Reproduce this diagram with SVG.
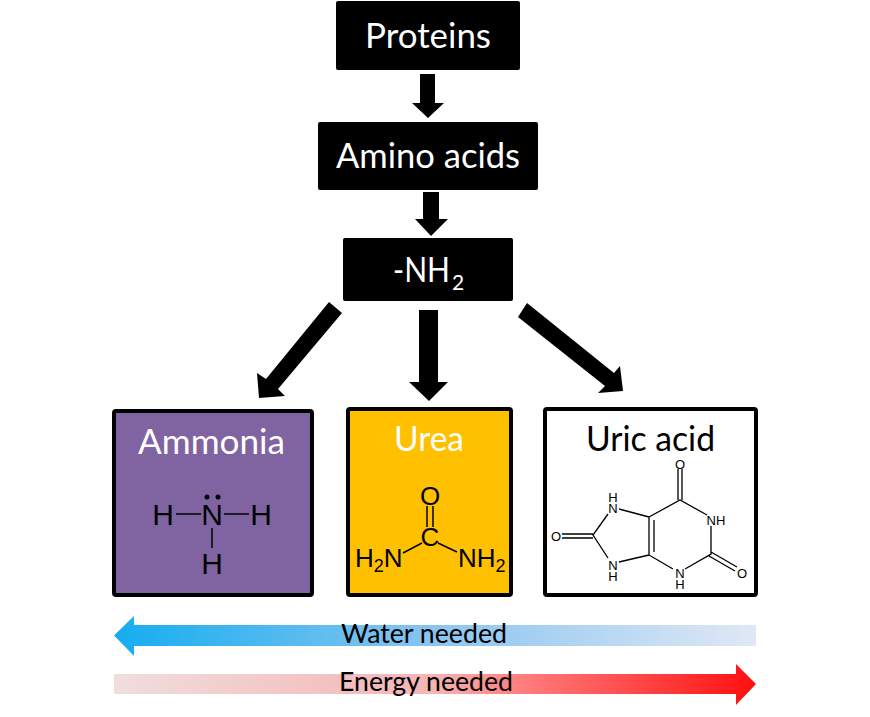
<svg xmlns="http://www.w3.org/2000/svg" width="870" height="717" viewBox="0 0 870 717">
<style>
.t{font-family:Lato,"Liberation Sans",sans-serif;font-size:35px}
.b{font-family:Lato,"Liberation Sans",sans-serif;font-size:26.5px;fill:#000}
.w{fill:#fff}
.k{fill:#000}
.box{stroke:#000;stroke-width:4}
.a{font-family:"Liberation Sans",Arial,sans-serif;fill:#000;text-anchor:middle}
.a30{font-size:30px}
.a26{font-size:26px}
.a13{font-size:13px}
.l{stroke:#000;stroke-width:1.5;fill:none}
.l2{stroke:#000;stroke-width:1.3;fill:none}
</style>
<defs>
<linearGradient id="gw" x1="114" x2="756" y1="0" y2="0" gradientUnits="userSpaceOnUse">
<stop offset="0" stop-color="#15adf0"/><stop offset="0.5" stop-color="#8ac5f0"/><stop offset="1" stop-color="#e0e8f5"/>
</linearGradient>
<linearGradient id="ge" x1="114" x2="756" y1="0" y2="0" gradientUnits="userSpaceOnUse">
<stop offset="0" stop-color="#f1dddd"/><stop offset="0.5" stop-color="#f5b4b4"/><stop offset="0.62" stop-color="#ff8282"/><stop offset="1" stop-color="#ff0f0f"/>
</linearGradient>
</defs>
<g id="connectors">
<polygon points="420,74 435,74 435,103 444,103 428,118 412,103 420,103"/>
<polygon points="423,192 439,192 439,219 448,219 431,236 415,219 423,219"/>
<polygon points="419,310 438,310 438,382 448,382 429,401 409,382 419,382"/>
<polygon points="329,302 342,313 278,389 285,396 259,398 257,373 266,379"/>
<polygon points="527,303 518,317 605,386 598,393 623,391 620,366 614,373"/>
</g>
<g id="proteins"><rect x="336" y="1" width="184" height="69" rx="2" class="k"/><text x="365" y="48" class="t w" textLength="126" lengthAdjust="spacingAndGlyphs">Proteins</text></g>
<g id="amino-acids"><rect x="318" y="122" width="220" height="68" rx="2" class="k"/><text x="336" y="168" class="t w" textLength="184" lengthAdjust="spacingAndGlyphs">Amino acids</text></g>
<g id="nh2"><rect x="343" y="238" width="170" height="63" rx="2" class="k"/><text x="393" y="282" class="t w" textLength="57" lengthAdjust="spacingAndGlyphs">-NH</text><text x="452" y="290" class="t w" style="font-size:21px">2</text></g>
<g id="ammonia">
<rect x="114" y="411" width="198" height="184" rx="2" fill="#8064a2" class="box"/>
<text x="138" y="454" class="t w" textLength="147" lengthAdjust="spacingAndGlyphs">Ammonia</text>
<text x="163" y="525" class="a a30">H</text><text x="212" y="525" class="a a30">N</text><text x="261" y="525" class="a a30">H</text><text x="212" y="574" class="a a30">H</text>
<path class="l" d="M176 514H201M224 514H249M212 528V548"/>
<circle cx="207" cy="497" r="2.5"/><circle cx="218" cy="497" r="2.5"/>
</g>
<g id="urea">
<rect x="348" y="409" width="163" height="186" rx="2" fill="#ffc000" class="box"/>
<text x="394" y="451" class="t w" textLength="70" lengthAdjust="spacingAndGlyphs">Urea</text>
<text x="430" y="505" class="a a26">O</text><text x="430" y="546" class="a a26">C</text>
<text x="355" y="567" class="a a26" style="text-anchor:start">H<tspan font-size="18px" dy="5">2</tspan><tspan dy="-5">N</tspan></text>
<text x="458" y="567" class="a a26" style="text-anchor:start">NH<tspan font-size="18px" dy="5">2</tspan></text>
<path class="l" d="M427 506V527M433 506V527M403 553L422 543M438 543L457 552"/>
</g>
<g id="uric-acid">
<rect x="545" y="409" width="211" height="186" rx="2" fill="#fff" class="box"/>
<text x="586" y="451" class="t k" textLength="129" lengthAdjust="spacingAndGlyphs">Uric acid</text>
<g class="a a13">
<text x="680" y="469">O</text><text x="716" y="525">NH</text><text x="742" y="578">O</text><text x="680" y="578">N<tspan x="680" dy="11">H</tspan></text>
<text x="613" y="502">H<tspan x="613" dy="11">N</tspan></text><text x="613" y="570">N<tspan x="613" dy="11">H</tspan></text><text x="556" y="541">O</text>
</g>
<path class="l2" d="M678 469V500M682 469V500M649 517L680 500L707 515M711 526V554L685 569M673 569L649 555V517M654 520V552M649 517L619 509M608 514L593 535L608 558M619 562L649 555M562 534H593M562 538H593M711 552L737 567M709 556L735 571"/>
</g>
<g id="water-needed">
<polygon points="114,635.5 134,616 134,625 756,625 756,646 134,646 134,656" fill="url(#gw)"/>
<text x="341" y="643" class="b" textLength="166" lengthAdjust="spacingAndGlyphs">Water needed</text>
</g>
<g id="energy-needed">
<polygon points="114,674 736,674 736,664 756,684 736,705 736,694 114,694" fill="url(#ge)"/>
<text x="339" y="691" class="b" textLength="174" lengthAdjust="spacingAndGlyphs">Energy needed</text>
</g>
</svg>
